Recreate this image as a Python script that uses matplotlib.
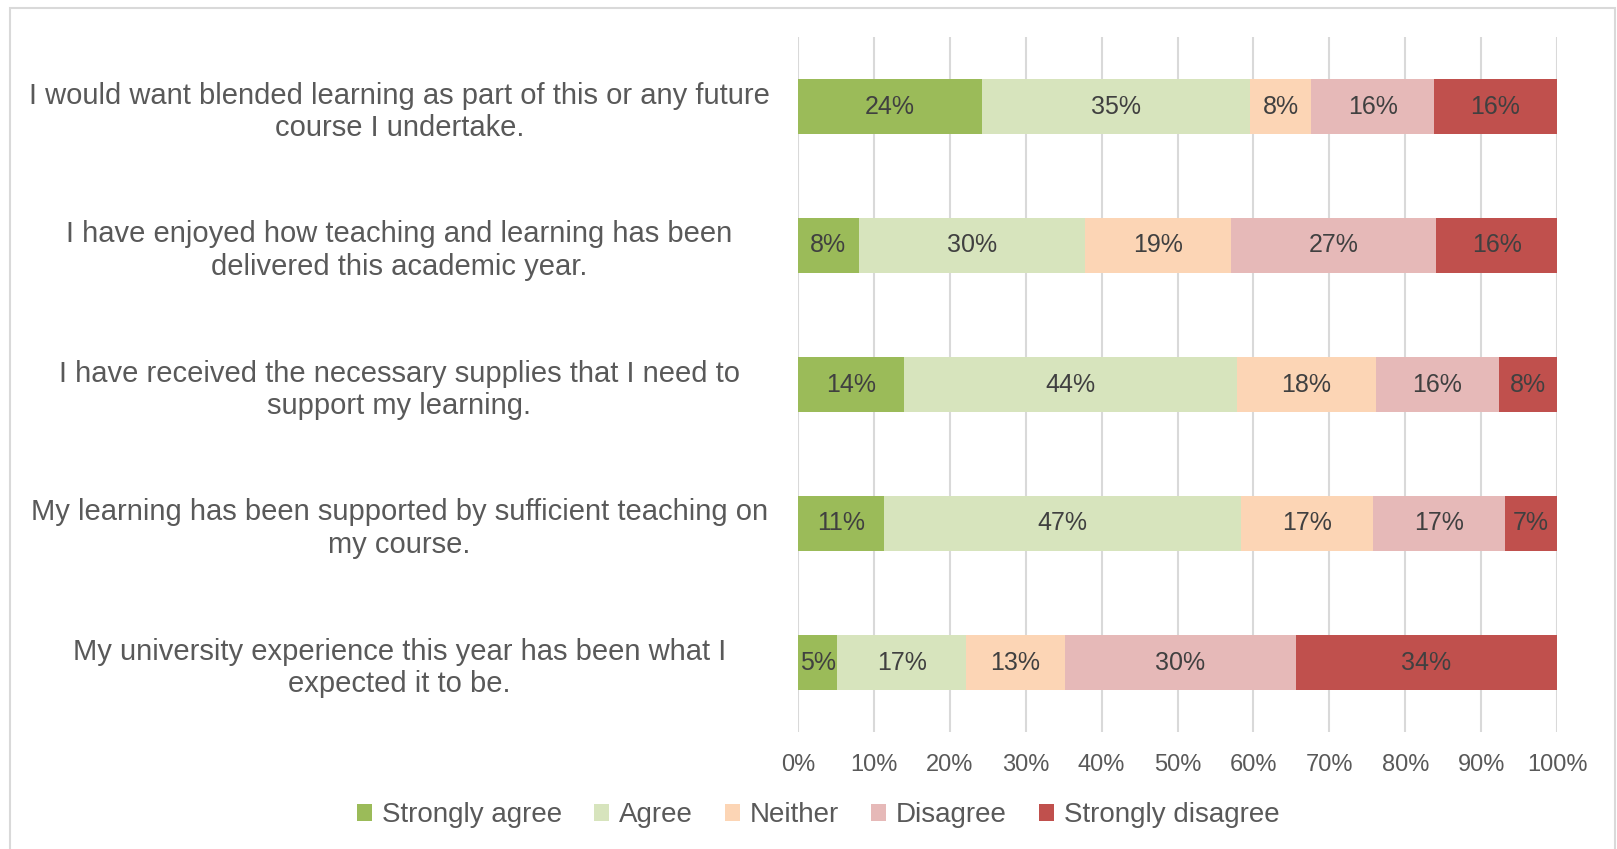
import matplotlib.pyplot as plt
from matplotlib.patches import Rectangle
import numpy as np

plt.rcParams['font.family'] = ['Liberation Sans', 'DejaVu Sans']

# questions, top to bottom
questions = [
    "I would want blended learning as part of this or any future\ncourse I undertake.",
    "I have enjoyed how teaching and learning has been\ndelivered this academic year.",
    "I have received the necessary supplies that I need to\nsupport my learning.",
    "My learning has been supported by sufficient teaching on\nmy course.",
    "My university experience this year has been what I\nexpected it to be.",
]
responses = ["Strongly agree", "Agree", "Neither", "Disagree", "Strongly disagree"]

# percentages per question
strongly_agree = [24.2, 8.0, 13.9, 11.3, 5.2]
agree = [35.4, 29.8, 43.9, 47.1, 16.9]
neither = [8.0, 19.2, 18.4, 17.4, 13.1]
disagree = [16.2, 27.1, 16.1, 17.4, 30.4]
strongly_disagree = [16.2, 15.9, 7.7, 6.8, 34.4]

colors = ["#9BBB59", "#D7E4BD", "#FCD5B5", "#E6B9B8", "#C0504D"]
series = [strongly_agree, agree, neither, disagree, strongly_disagree]

W, H = 1617, 849
fig = plt.figure(figsize=(W / 100, H / 100), dpi=100)
ax = fig.add_axes([798 / W, 1 - 732 / H, (1557 - 798) / W, (732 - 37) / H])

y = np.arange(len(questions))
left = np.zeros(len(questions))
for vals, col, name in zip(series, colors, responses):
    vals = np.array(vals)
    bars = ax.barh(y, vals, left=left, height=0.4, color=col, label=name, zorder=3)
    ax.bar_label(bars, labels=[f"{v:.0f}%" for v in vals], label_type='center',
                 fontsize=18, color='#404040')
    left += vals

ax.set_xlim(0, 100)
ax.set_ylim(len(questions) - 0.5, -0.5)
ax.set_xticks(np.arange(0, 101, 10))
ax.set_xticklabels([f"{t}%" for t in range(0, 101, 10)])
ax.set_yticks(y)
ax.set_yticklabels(questions, fontsize=21, color='#595959', ha='center',
                   linespacing=1.2)
ax.tick_params(axis='y', length=0, pad=287)
ax.tick_params(axis='x', length=0, labelsize=17, labelcolor='#595959', pad=16)
ax.grid(axis='x', color='#D9D9D9', linewidth=1.5, zorder=0)
for s in ax.spines.values():
    s.set_visible(False)

fig.legend(loc='center', bbox_to_anchor=(0.506, 1 - 815 / H), ncol=5, frameon=False,
           fontsize=20, labelcolor='#595959', handlelength=0.55, handleheight=0.55,
           handletextpad=0.35, columnspacing=1.15)

fig.patches.append(Rectangle((9.5 / W, -0.05), (1615 - 9.5) / W, 1.05 - 8 / H,
                             transform=fig.transFigure, fill=False,
                             edgecolor='#D9D9D9', linewidth=1.5))

fig.savefig('out.png', dpi=100)
